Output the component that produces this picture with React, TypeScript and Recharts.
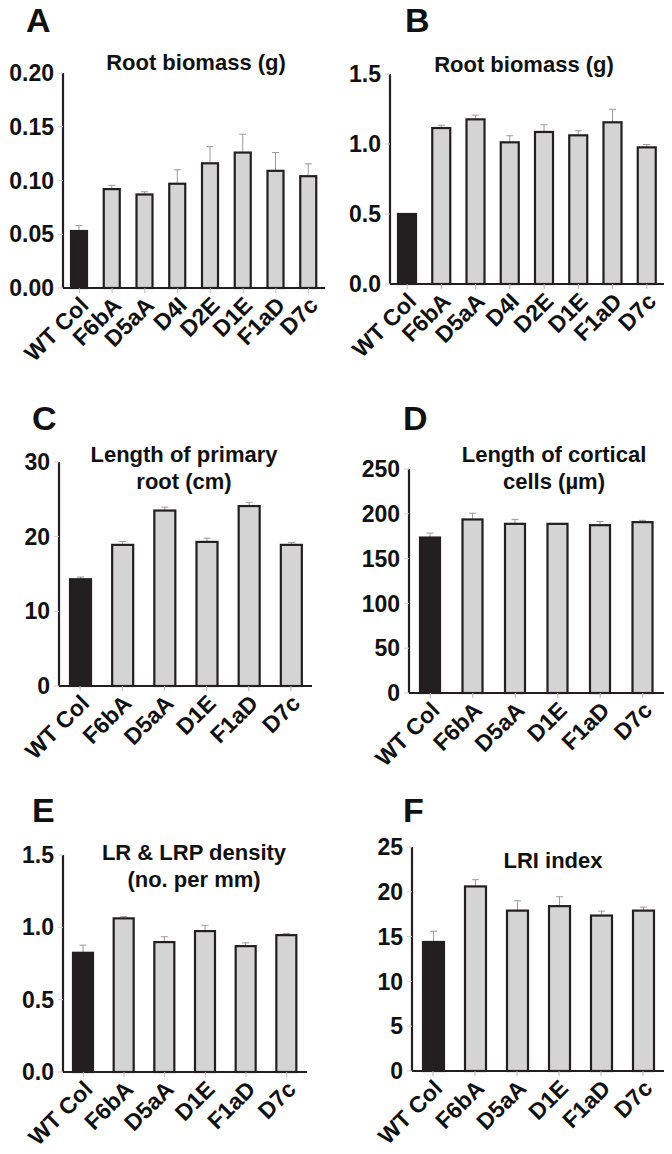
import React from 'react';
import { BarChart, Bar, XAxis, YAxis, Cell } from 'recharts';

// plant lines
const linesAB = ['WT Col', 'F6bA', 'D5aA', 'D4I', 'D2E', 'D1E', 'F1aD', 'D7c'];
const linesCF = ['WT Col', 'F6bA', 'D5aA', 'D1E', 'F1aD', 'D7c'];

// A, B: root biomass (g)
const biomassA = [0.053, 0.092, 0.087, 0.097, 0.116, 0.126, 0.109, 0.104];
const biomassAErr = [0.005, 0.0035, 0.0025, 0.013, 0.0155, 0.017, 0.017, 0.0115];
const biomassB = [0.5, 1.114, 1.176, 1.012, 1.086, 1.062, 1.155, 0.976];
const biomassBErr = [0, 0.02, 0.03, 0.047, 0.052, 0.033, 0.093, 0.02];

// C: primary root length (cm), D: cortical cell length (um)
const primaryRoot = [14.3, 18.9, 23.5, 19.3, 24.1, 18.9];
const primaryRootErr = [0.3, 0.45, 0.45, 0.5, 0.5, 0.3];
const corticalCells = [173.5, 193.7, 188.8, 188.8, 187.3, 190.7];
const corticalCellsErr = [5, 7, 5, 0.5, 4, 2];

// E: LR & LRP density, F: LRI index
const lrDensity = [0.824, 1.062, 0.898, 0.974, 0.87, 0.946];
const lrDensityErr = [0.053, 0.012, 0.037, 0.04, 0.023, 0.012];
const lriIndex = [14.4, 20.6, 17.9, 18.4, 17.35, 17.9];
const lriIndexErr = [1.2, 0.75, 1.1, 1.05, 0.5, 0.4];

const ticksA = [0, 0.05, 0.1, 0.15, 0.2];
const ticksB = [0, 0.5, 1, 1.5];
const ticksC = [0, 10, 20, 30];
const ticksD = [0, 50, 100, 150, 200, 250];
const ticksE = [0, 0.5, 1, 1.5];
const ticksF = [0, 5, 10, 15, 20, 25];

const FONT = '"Liberation Sans", Arial, Helvetica, sans-serif';
const INK = '#231f20';

const rows = (names: string[], values: number[], errs: number[]) =>
  names.map((name, i) => ({ name, value: values[i], err: errs[i] }));

// top of a text box so that the first baseline lands on `baseline`
const boxTop = (baseline: number, fs: number, lh: number) =>
  baseline - ((lh - 1.117 * fs) / 2 + 0.905 * fs);

const BarWithError = (props: any) => {
  const { x, y, width, height, fill, payload } = props;
  const up = payload.value ? (payload.err / payload.value) * height : 0;
  const cx = x + width / 2;
  return (
    <g>
      {up > 0.5 && (
        <g stroke="#9a9a9a" strokeWidth={1}>
          <line x1={cx} x2={cx} y1={y} y2={y - up} />
          <line x1={cx - 3.5} x2={cx + 3.5} y1={y - up} y2={y - up} />
        </g>
      )}
      <rect x={x} y={y} width={width} height={height} fill={fill} stroke={INK} strokeWidth={2.2} />
    </g>
  );
};

const RotTick = (props: any) => {
  const { x, y, payload } = props;
  const ax = x + 5;
  const ay = y + 3;
  return (
    <text
      x={ax}
      y={ay}
      transform={`rotate(-45 ${ax} ${ay})`}
      textAnchor="end"
      dy="0.35em"
      fill="#111"
      fontSize={23}
      fontWeight={700}
      fontFamily={FONT}
    >
      {payload.value}
    </text>
  );
};

type PanelProps = {
  letter: string;
  letterX: number;
  letterY: number;
  title: string[];
  titleX: number;
  titleY: number;
  data: { name: string; value: number; err: number }[];
  ticks: number[];
  decimals: number;
  left: number;
  x0: number;
  x1: number;
  y0: number;
  y1: number;
  barSize: number;
};

function Panel(p: PanelProps) {
  const top = p.y0 - 20;
  const xAxisH = 95;
  const height = p.y1 + xAxisH - top;
  return (
    <>
      <div style={{ position: 'absolute', left: p.left, top }}>
        <BarChart
          width={336}
          height={height}
          data={p.data}
          margin={{ top: 20, right: p.left + 336 - p.x1, left: 0, bottom: 0 }}
        >
          <XAxis
            dataKey="name"
            interval={0}
            height={xAxisH}
            tick={(t: any) => <RotTick {...t} />}
            axisLine={{ stroke: INK, strokeWidth: 2.2 }}
            tickLine={{ stroke: '#b5b5b5' }}
            tickSize={5}
            tickMargin={5}
          />
          <YAxis
            width={p.x0 - p.left}
            domain={[0, p.ticks[p.ticks.length - 1]]}
            ticks={p.ticks}
            interval={0}
            tickFormatter={(v: number) => v.toFixed(p.decimals)}
            tick={{ fill: '#111', fontSize: 23, fontWeight: 700, fontFamily: FONT }}
            axisLine={{ stroke: INK, strokeWidth: 2.2 }}
            tickLine={{ stroke: '#d0d0d0' }}
            tickSize={5}
            tickMargin={4}
          />
          <Bar
            dataKey="value"
            barSize={p.barSize}
            isAnimationActive={false}
            shape={(b: any) => <BarWithError {...b} />}
          >
            {p.data.map((d, i) => (
              <Cell key={d.name} fill={i === 0 ? INK : '#d4d4d4'} />
            ))}
          </Bar>
        </BarChart>
      </div>
      <div
        style={{
          position: 'absolute',
          left: p.letterX,
          top: boxTop(p.letterY, 34, 34),
          fontSize: 34,
          lineHeight: '34px',
          fontWeight: 700,
          color: '#111',
        }}
      >
        {p.letter}
      </div>
      <div
        style={{
          position: 'absolute',
          left: p.titleX - 150,
          width: 300,
          top: boxTop(p.titleY, 22, 27),
          fontSize: 22,
          lineHeight: '27px',
          fontWeight: 700,
          color: '#111',
          textAlign: 'center',
        }}
      >
        {p.title.map((line) => (
          <div key={line}>{line}</div>
        ))}
      </div>
    </>
  );
}

export default function App() {
  return (
    <div
      style={{
        position: 'absolute',
        left: 0,
        top: 0,
        width: 672,
        height: 1154,
        background: '#fff',
        fontFamily: FONT,
        overflow: 'hidden',
      }}
    >
      <Panel letter="A" letterX={26} letterY={32} title={['Root biomass (g)']} titleX={196} titleY={70}
        data={rows(linesAB, biomassA, biomassAErr)} ticks={ticksA} decimals={2}
        left={0} x0={63} x1={325} y0={73} y1={288} barSize={16} />
      <Panel letter="B" letterX={405} letterY={32} title={['Root biomass (g)']} titleX={524} titleY={72}
        data={rows(linesAB, biomassB, biomassBErr)} ticks={ticksB} decimals={1}
        left={336} x0={390} x1={664} y0={74} y1={284} barSize={18} />
      <Panel letter="C" letterX={32} letterY={430} title={['Length of primary', 'root (cm)']} titleX={184} titleY={462}
        data={rows(linesCF, primaryRoot, primaryRootErr)} ticks={ticksC} decimals={0}
        left={0} x0={59} x1={312} y0={462} y1={686} barSize={21} />
      <Panel letter="D" letterX={403} letterY={430} title={['Length of cortical', 'cells (\u00b5m)']} titleX={554} titleY={462}
        data={rows(linesCF, corticalCells, corticalCellsErr)} ticks={ticksD} decimals={0}
        left={336} x0={409} x1={664} y0={469} y1={693} barSize={20} />
      <Panel letter="E" letterX={32} letterY={822} title={['LR & LRP density', '(no. per mm)']} titleX={194} titleY={860}
        data={rows(linesCF, lrDensity, lrDensityErr)} ticks={ticksE} decimals={1}
        left={0} x0={63} x1={307} y0={855} y1={1072} barSize={20} />
      <Panel letter="F" letterX={403} letterY={822} title={['LRI index']} titleX={553} titleY={868}
        data={rows(linesCF, lriIndex, lriIndexErr)} ticks={ticksF} decimals={0}
        left={336} x0={412} x1={664} y0={847} y1={1071} barSize={21} />
    </div>
  );
}
